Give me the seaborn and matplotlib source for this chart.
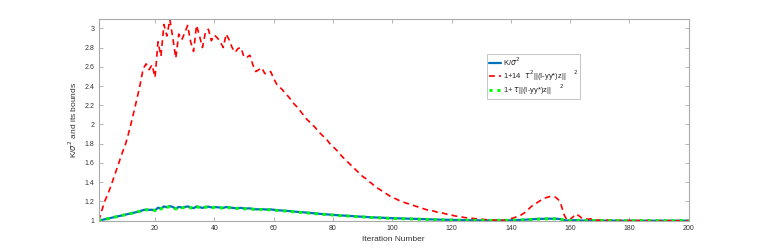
import numpy as np
import pandas as pd
import matplotlib
matplotlib.use("Agg")
import matplotlib.pyplot as plt
import seaborn as sns

iterations = list(range(1, 201))

ratio_values = [
    1.000, 1.007, 1.014, 1.021, 1.028, 1.035, 1.042, 1.049, 1.056, 1.063,
    1.070, 1.077, 1.084, 1.091, 1.100, 1.110, 1.115, 1.112, 1.114, 1.108,
    1.135, 1.125, 1.148, 1.140, 1.152, 1.142, 1.125, 1.143, 1.137, 1.142,
    1.148, 1.138, 1.130, 1.148, 1.140, 1.133, 1.143, 1.146, 1.138, 1.142,
    1.140, 1.137, 1.133, 1.142, 1.138, 1.133, 1.130, 1.132, 1.133, 1.127,
    1.127, 1.128, 1.122, 1.118, 1.119, 1.120, 1.117, 1.116, 1.117, 1.113,
    1.110, 1.108, 1.105, 1.103, 1.100, 1.098, 1.095, 1.092, 1.090, 1.087,
    1.084, 1.081, 1.078, 1.076, 1.073, 1.070, 1.068, 1.065, 1.063, 1.060,
    1.058, 1.056, 1.054, 1.052, 1.050, 1.048, 1.046, 1.044, 1.042, 1.040,
    1.038, 1.037, 1.035, 1.034, 1.032, 1.031, 1.030, 1.028, 1.027, 1.026,
    1.025, 1.024, 1.023, 1.022, 1.021, 1.020, 1.019, 1.018, 1.017, 1.016,
    1.015, 1.014, 1.013, 1.013, 1.012, 1.011, 1.010, 1.010, 1.009, 1.008,
    1.008, 1.007, 1.007, 1.006, 1.006, 1.005, 1.005, 1.004, 1.004, 1.004,
    1.003, 1.003, 1.003, 1.002, 1.002, 1.002, 1.002, 1.002, 1.003, 1.004,
    1.005, 1.006, 1.007, 1.009, 1.011, 1.013, 1.015, 1.017, 1.018, 1.019,
    1.020, 1.021, 1.021, 1.021, 1.020, 1.019, 1.014, 1.006, 1.001, 1.002,
    1.004, 1.006, 1.004, 1.002, 1.002, 1.002, 1.001, 1.001, 1.001, 1.001,
    1.001, 1.001, 1.001, 1.001, 1.001, 1.000, 1.000, 1.000, 1.000, 1.000,
    1.000, 1.000, 1.000, 1.000, 1.000, 1.000, 1.000, 1.000, 1.000, 1.000,
    1.000, 1.000, 1.000, 1.000, 1.000, 1.000, 1.000, 1.000, 1.000, 1.000,
]

upper_bound_values = [
    1.000, 1.100, 1.200, 1.270, 1.350, 1.440, 1.530, 1.620, 1.710, 1.790,
    1.900, 2.020, 2.150, 2.280, 2.420, 2.580, 2.630, 2.570, 2.620, 2.490,
    2.860, 2.710, 3.040, 2.920, 3.090, 2.900, 2.690, 2.940, 2.880, 2.950,
    3.030, 2.860, 2.760, 3.030, 2.920, 2.800, 2.960, 2.990, 2.870, 2.930,
    2.900, 2.860, 2.800, 2.940, 2.880, 2.800, 2.750, 2.790, 2.800, 2.700,
    2.700, 2.720, 2.620, 2.550, 2.570, 2.590, 2.530, 2.530, 2.550, 2.480,
    2.420, 2.390, 2.360, 2.320, 2.290, 2.250, 2.210, 2.180, 2.140, 2.100,
    2.060, 2.030, 2.000, 1.970, 1.930, 1.900, 1.870, 1.840, 1.800, 1.770,
    1.740, 1.710, 1.670, 1.640, 1.610, 1.580, 1.550, 1.520, 1.490, 1.460,
    1.440, 1.410, 1.390, 1.360, 1.340, 1.320, 1.300, 1.280, 1.260, 1.245,
    1.230, 1.215, 1.200, 1.190, 1.180, 1.170, 1.160, 1.150, 1.140, 1.130,
    1.120, 1.110, 1.105, 1.100, 1.090, 1.085, 1.080, 1.070, 1.065, 1.060,
    1.050, 1.045, 1.040, 1.035, 1.030, 1.027, 1.023, 1.020, 1.018, 1.015,
    1.012, 1.010, 1.008, 1.006, 1.005, 1.004, 1.004, 1.006, 1.010, 1.020,
    1.030, 1.040, 1.050, 1.070, 1.090, 1.120, 1.150, 1.170, 1.190, 1.210,
    1.230, 1.240, 1.250, 1.250, 1.245, 1.220, 1.160, 1.060, 1.005, 1.010,
    1.040, 1.070, 1.050, 1.025, 1.020, 1.015, 1.020, 1.010, 1.005, 1.005,
    1.004, 1.004, 1.003, 1.003, 1.003, 1.002, 1.002, 1.002, 1.002, 1.001,
    1.001, 1.001, 1.001, 1.001, 1.001, 1.001, 1.000, 1.000, 1.000, 1.000,
    1.000, 1.000, 1.000, 1.000, 1.000, 1.000, 1.000, 1.000, 1.000, 1.000,
]

lower_bound_values = [
    1.000, 1.006, 1.013, 1.020, 1.027, 1.034, 1.041, 1.048, 1.055, 1.062,
    1.069, 1.076, 1.083, 1.090, 1.098, 1.108, 1.113, 1.110, 1.112, 1.106,
    1.132, 1.122, 1.145, 1.137, 1.149, 1.139, 1.122, 1.140, 1.134, 1.139,
    1.145, 1.135, 1.127, 1.145, 1.137, 1.130, 1.140, 1.143, 1.135, 1.139,
    1.137, 1.134, 1.130, 1.139, 1.135, 1.130, 1.127, 1.129, 1.130, 1.124,
    1.124, 1.125, 1.119, 1.115, 1.116, 1.117, 1.114, 1.113, 1.114, 1.110,
    1.107, 1.105, 1.102, 1.100, 1.097, 1.095, 1.092, 1.089, 1.087, 1.084,
    1.081, 1.078, 1.075, 1.073, 1.070, 1.068, 1.066, 1.063, 1.061, 1.058,
    1.056, 1.054, 1.052, 1.050, 1.048, 1.046, 1.044, 1.042, 1.040, 1.038,
    1.036, 1.035, 1.033, 1.032, 1.030, 1.029, 1.028, 1.026, 1.025, 1.024,
    1.023, 1.022, 1.021, 1.020, 1.019, 1.018, 1.017, 1.016, 1.015, 1.014,
    1.013, 1.012, 1.011, 1.011, 1.010, 1.009, 1.008, 1.008, 1.007, 1.006,
    1.006, 1.005, 1.005, 1.004, 1.004, 1.004, 1.003, 1.003, 1.003, 1.003,
    1.002, 1.002, 1.002, 1.002, 1.002, 1.002, 1.002, 1.002, 1.003, 1.004,
    1.005, 1.006, 1.007, 1.008, 1.010, 1.012, 1.014, 1.016, 1.017, 1.018,
    1.019, 1.020, 1.020, 1.020, 1.019, 1.018, 1.013, 1.005, 1.001, 1.002,
    1.004, 1.005, 1.003, 1.002, 1.002, 1.002, 1.001, 1.001, 1.001, 1.001,
    1.001, 1.001, 1.001, 1.001, 1.001, 1.000, 1.000, 1.000, 1.000, 1.000,
    1.000, 1.000, 1.000, 1.000, 1.000, 1.000, 1.000, 1.000, 1.000, 1.000,
    1.000, 1.000, 1.000, 1.000, 1.000, 1.000, 1.000, 1.000, 1.000, 1.000,
]

x_ticks = [20, 40, 60, 80, 100, 120, 140, 160, 180, 200]
y_ticks = [1, 1.2, 1.4, 1.6, 1.8, 2, 2.2, 2.4, 2.6, 2.8, 3]
y_tick_labels = ["1", "1.2", "1.4", "1.6", "1.8", "2", "2.2", "2.4", "2.6", "2.8", "3"]

labels = [
    r"K/$\sigma^2$",
    r"1+14  $\tau^2$||(I-yy*)z||    ${}^{2}$",
    r"1+ $\tau$||(I-yy*)z||    ${}^{2}$",
]

sns.set_theme(style="white")
plt.rcParams["font.family"] = ["Liberation Sans", "DejaVu Sans"]
plt.rcParams["mathtext.fontset"] = "dejavusans"

fig = plt.figure(figsize=(7.61, 2.49), dpi=100)
ax = fig.add_axes([0.1297, 0.1137, 0.7753, 0.8113])

df = pd.DataFrame({"it": iterations, "ratio": ratio_values,
                   "upper": upper_bound_values, "lower": lower_bound_values})

sns.lineplot(data=df, x="it", y="ratio", ax=ax, color="#0072BD", lw=1.6,
             label=labels[0])
sns.lineplot(data=df, x="it", y="upper", ax=ax, color="#FF0000", lw=1.2,
             label=labels[1])
ax.lines[-1].set_dashes([3.5, 2.5])
sns.lineplot(data=df, x="it", y="lower", ax=ax, color="#00FF00", lw=2.2,
             label=labels[2])
ax.lines[-1].set_dashes([1.0, 1.6])

ax.set_xlim(1, 200)
ax.set_ylim(1, 3.1)
ax.set_xticks(x_ticks)
ax.set_xticklabels([str(t) for t in x_ticks])
ax.set_yticks(y_ticks)
ax.set_yticklabels(y_tick_labels)
ax.tick_params(direction="in", length=3, width=0.6, colors="#aaaaaa",
               labelcolor="#333333", labelsize=5, top=True, right=True,
               bottom=True, left=True, pad=3)
for s in ax.spines.values():
    s.set_color("#aaaaaa")
    s.set_linewidth(0.8)

ax.set_xlabel("Iteration Number", fontsize=6, color="#333333", labelpad=3)
ax.set_ylabel(r"K/$\sigma^2$ and its bounds", fontsize=6, color="#333333",
              labelpad=4)

leg = ax.legend(loc="upper left", bbox_to_anchor=(0.658, 0.826), fontsize=5.5,
                frameon=True, fancybox=False, borderpad=0.25, labelspacing=0.0,
                handlelength=1.6, handletextpad=0.25, borderaxespad=0)
leg.get_frame().set_edgecolor("#aaaaaa")
leg.get_frame().set_linewidth(0.6)

fig.savefig("out.png", dpi=100)
